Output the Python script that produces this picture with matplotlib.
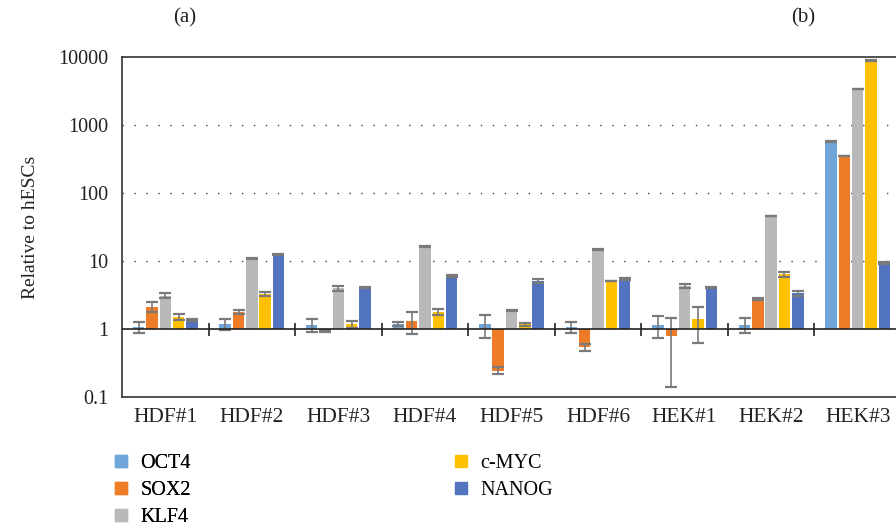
import numpy as np
import matplotlib
matplotlib.use("Agg")
import matplotlib.pyplot as plt
from matplotlib.lines import Line2D

plt.rcParams['font.family'] = ['Liberation Serif', 'DejaVu Serif']

# data (relative expression, log scale)
samples = ['HDF#1', 'HDF#2', 'HDF#3', 'HDF#4', 'HDF#5', 'HDF#6', 'HEK#1', 'HEK#2', 'HEK#3']
genes = ['OCT4', 'SOX2', 'KLF4', 'c-MYC', 'NANOG']
colors = ['#70A5DA', '#EE7B27', '#B9B9B9', '#FFC000', '#5273BD']

oct4 = [1.08, 1.18, 1.16, 1.18, 1.18, 1.06, 1.15, 1.16, 570]
sox2 = [2.13, 1.78, 0.93, 1.32, 0.245, 0.54, 0.80, 2.74, 350]
klf4 = [3.1, 10.8, 4.0, 16.3, 1.86, 14.7, 4.3, 46, 3400]
cmyc = [1.52, 3.25, 1.17, 1.79, 1.17, 5.06, 1.38, 6.4, 8800]
nanog = [1.36, 12.6, 4.1, 6.0, 5.1, 5.47, 4.1, 3.35, 9.3]

oct4_err = [0.2, 0.2, 0.25, 0.08, 0.45, 0.2, 0.42, 0.28, 8]
sox2_err = [0.35, 0.1, 0.03, 0.47, 0.03, 0.07, 0.66, 0.1, 5]
klf4_err = [0.27, 0.1, 0.35, 0.15, 0.02, 0.15, 0.3, 0.5, 40]
cmyc_err = [0.16, 0.2, 0.15, 0.2, 0.07, 0.05, 0.76, 0.5, 100]
nanog_err = [0.04, 0.15, 0.05, 0.15, 0.4, 0.2, 0.05, 0.3, 0.3]

values = [oct4, sox2, klf4, cmyc, nanog]
errors = [oct4_err, sox2_err, klf4_err, cmyc_err, nanog_err]

fig = plt.figure(figsize=(8.96, 5.31), dpi=100)
ax = fig.add_axes([122/896, 134/531, 779/896, 340/531])

x = np.arange(len(samples)) + 0.5
pitch = 0.154
width = 0.133
for i, (vals, errs) in enumerate(zip(values, errors)):
    vals = np.array(vals)
    pos = x + (i - 2) * pitch
    ax.bar(pos, vals - 1, bottom=1, width=width, color=colors[i], zorder=2)
    ax.errorbar(pos, vals, yerr=errs, fmt='none', ecolor='#7a7a7a',
                elinewidth=1.2, capsize=4.5, capthick=1.6, zorder=3)

ax.set_yscale('log')
ax.set_ylim(0.1, 10000)
ax.set_xlim(0, len(samples))
ax.set_yticks([0.1, 1, 10, 100, 1000, 10000])
ax.set_yticklabels(['0.1', '1', '10', '100', '1000', '10000'])
ax.minorticks_off()
ax.set_xticks(x)
ax.set_xticklabels(samples)
ax.tick_params(axis='y', length=0, pad=10, labelsize=14.5, colors='#222222')
ax.tick_params(axis='x', length=0, pad=8, labelsize=15.5, colors='#222222')

for g in [10, 100, 1000]:
    ax.axhline(g, color='#444444', lw=1, ls=(0, (1, 7.6)), zorder=1)
ax.axhline(1, color='#222222', lw=1.2, zorder=4)
ax.vlines(np.arange(1, len(samples)), 0.78, 1.24, color='#222222', lw=1.2, zorder=4)

for side in ['left', 'top', 'bottom']:
    ax.spines[side].set_color('#333333')
    ax.spines[side].set_linewidth(1.2)
ax.spines['right'].set_visible(False)

ax.set_ylabel('Relative to hESCs', fontsize=14, labelpad=14, color='#222222')

fig.text(185/896, 1 - 18/531, '(a)', ha='center', va='center', fontsize=15, color='#222222')
fig.text(803/896, 1 - 18/531, '(b)', ha='center', va='center', fontsize=15, color='#222222')

handles = [Line2D([], [], marker='s', ls='none', color=c, markersize=8) for c in colors]
leg_kw = dict(loc='upper left', frameon=False, fontsize=14.5, handlelength=0.8,
              handletextpad=0.55, labelspacing=0.38, borderaxespad=0, borderpad=0)
leg1 = fig.legend(handles[:3], genes[:3], bbox_to_anchor=(113/896, 1 - 454/531), **leg_kw)
fig.add_artist(leg1)
fig.legend(handles[3:], genes[3:], bbox_to_anchor=(453/896, 1 - 454/531), **leg_kw)

fig.savefig('out.png', dpi=100)
